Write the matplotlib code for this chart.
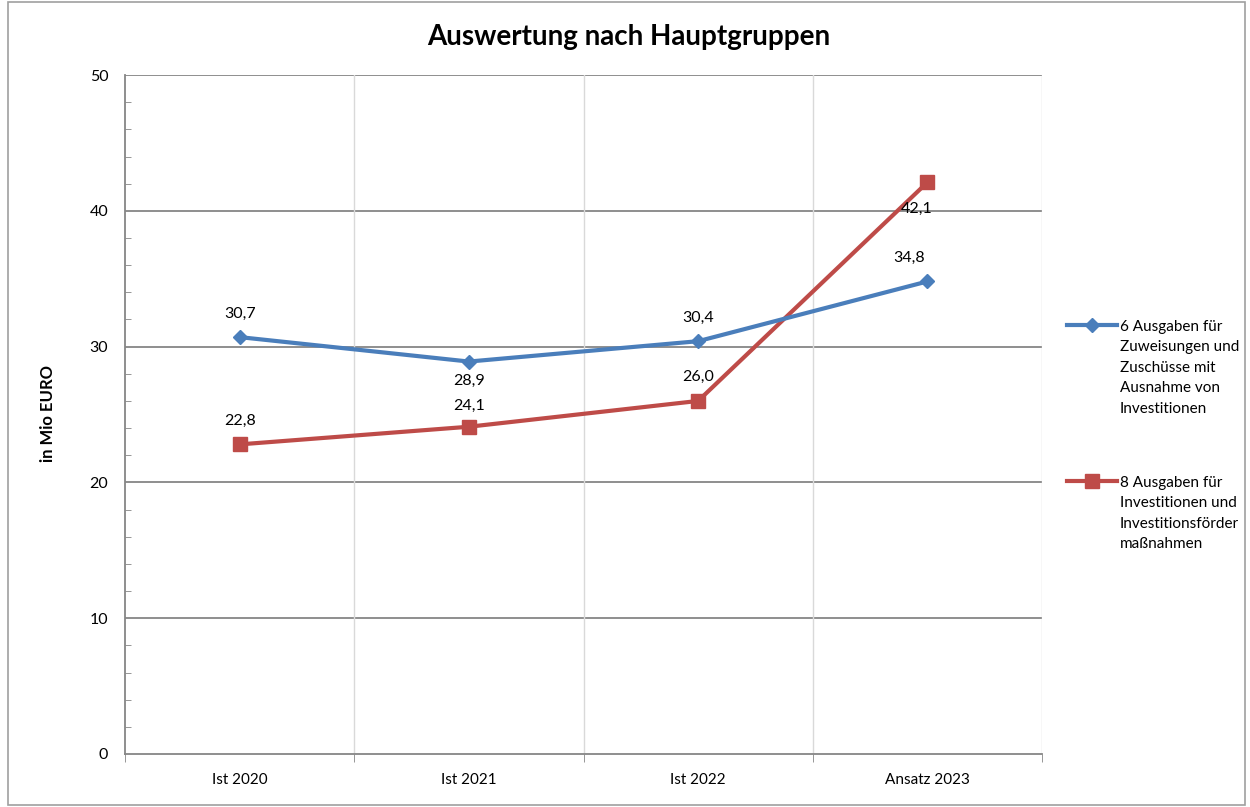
import matplotlib.pyplot as plt
from matplotlib.lines import Line2D
from matplotlib.patches import Rectangle

categories = ['Ist 2020', 'Ist 2021', 'Ist 2022', 'Ansatz 2023']
hg6 = [30.7, 28.9, 30.4, 34.8]
hg8 = [22.8, 24.1, 26.0, 42.1]
hg6_label = '6 Ausgaben für\nZuweisungen und\nZuschüsse mit\nAusnahme von\nInvestitionen'
hg8_label = '8 Ausgaben für\nInvestitionen und\nInvestitionsförder\nmaßnahmen'

BLUE = '#4A7EBB'
RED = '#BE4B48'
plt.rcParams['font.family'] = ['Lato', 'DejaVu Sans']

W, H = 1250, 807
fig = plt.figure(figsize=(12.5, 8.07), dpi=100)
fig.patches.append(Rectangle((0.006, 0.002), 0.99, 0.996, transform=fig.transFigure,
                             fill=False, edgecolor='#A0A0A0', linewidth=1.2))
ax = fig.add_axes([0.1, 0.0657, 0.7336, 0.8413])

x = list(range(len(categories)))
ax.plot(x, hg6, color=BLUE, lw=3, marker='D', ms=7, zorder=4)
ax.plot(x, hg8, color=RED, lw=3, marker='s', ms=10, zorder=3)

# data labels
offs6 = [(0, 12), (0, -19), (0, 12), (-13, 12)]
offs8 = [(0, 12), (0, 10), (0, 12), (-8, -24)]
for series, offs in ((hg6, offs6), (hg8, offs8)):
    for xi, v, o in zip(x, series, offs):
        ax.annotate(f'{v:.1f}'.replace('.', ','), (xi, v), xytext=o, textcoords='offset points',
                    ha='center', va='bottom', fontsize=11.5)

ax.set_xlim(-0.5, 3.5)
ax.set_ylim(0, 50)
ax.set_yticks(range(0, 51, 10))
ax.set_yticks(range(0, 51, 2), minor=True)
ax.set_xticks(x)
ax.set_xticklabels(categories, fontsize=11)
ax.set_xticks([-0.5, 0.5, 1.5, 2.5, 3.5], minor=True)
ax.tick_params(axis='x', which='major', length=0, pad=14)
ax.tick_params(axis='x', which='minor', length=6, direction='out', color='#868686')
ax.tick_params(axis='y', which='major', length=0, pad=12, labelsize=11.5)
ax.tick_params(axis='y', which='minor', length=4, direction='in', color='#868686')

for yv in range(10, 51, 10):
    ax.axhline(yv, color='#868686', lw=1.3, zorder=1)
for xv in [0.5, 1.5, 2.5, 3.5]:
    ax.axvline(xv, color='#D9D9D9', lw=1, zorder=1)

for s in ['top', 'right']:
    ax.spines[s].set_visible(False)
for s in ['left', 'bottom']:
    ax.spines[s].set_color('#868686')
    ax.spines[s].set_linewidth(1.3)

fig.text(48 / W, 1 - 414 / H, 'in Mio EURO', rotation=90, ha='center', va='center',
         fontsize=12, fontweight='bold')
fig.suptitle('Auswertung nach Hauptgruppen', x=0.503, y=0.97, fontsize=20, fontweight='bold')

# legend drawn by hand so the handle sits on the first text line
for label, color, marker, ms, ytop in ((hg6_label, BLUE, 'D', 7, 325), (hg8_label, RED, 's', 10, 481)):
    fy = 1 - ytop / H
    fig.add_artist(Line2D([1067 / W, 1117 / W], [fy, fy], color=color, lw=3, transform=fig.transFigure))
    fig.add_artist(Line2D([1092 / W], [fy], color=color, marker=marker, ms=ms, transform=fig.transFigure))
    fig.text(1120 / W, fy + 5 / H, label, ha='left', va='top', fontsize=11, linespacing=1.58)

fig.savefig('out.png', dpi=100)
